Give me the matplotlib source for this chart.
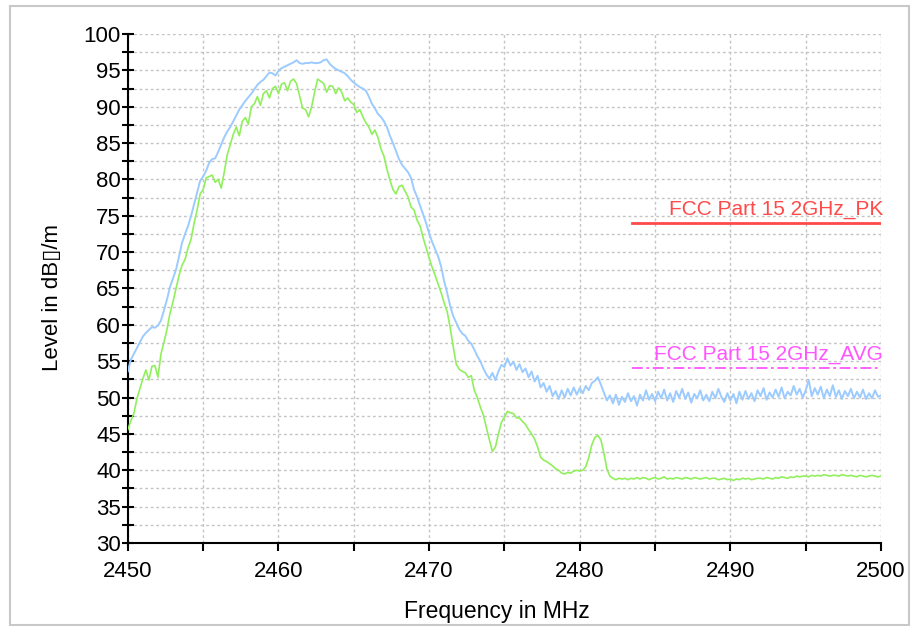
import matplotlib.pyplot as plt
import numpy as np
from matplotlib.patches import Rectangle
from matplotlib.ticker import MultipleLocator

plt.rcParams["font.family"] = ["Liberation Sans", "DejaVu Sans"]

# sweep: 2450 .. 2500 MHz, one point every 0.2 MHz
SWEEP_START, SWEEP_STOP, SWEEP_STEP = 2450.0, 2500.0, 0.2
freq_mhz = np.round(np.arange(SWEEP_START, SWEEP_STOP + SWEEP_STEP / 2, SWEEP_STEP), 1)

# peak trace (light blue), 5 points per MHz
peak_level = [
    53.6, 55.2, 56.0, 56.8, 57.6,  # 2450
    58.4, 58.9, 59.3, 59.7, 59.6,
    59.9, 60.6, 62.0, 63.5, 65.2,
    66.4, 67.6, 69.4, 71.3, 72.5,
    73.6, 75.0, 76.6, 78.2, 79.8,
    80.4, 81.2, 82.3, 82.8, 82.9,  # 2455
    83.8, 84.8, 85.8, 86.6, 87.2,
    88.0, 88.8, 89.6, 90.2, 90.8,
    91.3, 91.8, 92.4, 93.0, 93.4,
    93.7, 94.2, 94.7, 94.6, 94.3,
    94.9, 95.3, 95.5, 95.7, 95.9,  # 2460
    96.1, 96.4, 96.0, 95.9, 96.0,
    96.0, 96.1, 96.0, 96.0, 96.1,
    96.4, 96.5, 95.9, 95.5, 95.2,
    95.0, 94.8, 94.6, 94.2, 93.7,
    93.3, 93.0, 92.7, 92.5, 92.2,  # 2465
    91.4, 90.4, 89.8, 89.0, 88.6,
    88.0, 87.2, 86.0, 85.0, 83.9,
    82.8, 82.0, 81.5, 81.0, 80.2,
    78.6, 77.6, 76.4, 75.2, 74.0,
    72.6, 71.4, 70.4, 69.4, 68.0,  # 2470
    66.0, 64.4, 62.6, 61.2, 60.3,
    59.4, 58.8, 58.5, 57.8, 57.4,
    56.6, 55.7, 55.0, 54.0, 53.2,
    52.6, 53.4, 52.4, 53.6, 54.5,
    54.2, 55.4, 54.4, 54.9, 53.8,  # 2475
    54.6, 53.5, 54.0, 52.8, 53.6,
    52.2, 53.0, 51.4, 52.0, 50.8,
    51.6, 50.2, 50.9, 49.8, 51.0,
    50.0, 51.2, 50.3, 51.4, 50.4,
    51.3, 50.6, 51.6, 51.0, 52.0,  # 2480
    52.3, 52.8, 51.8, 50.7, 49.6,
    50.3, 49.2, 50.4, 49.0, 50.1,
    49.4, 50.6, 49.5, 50.2, 48.9,
    50.4, 49.6, 51.0, 49.7, 50.5,
    49.5, 50.8, 49.9, 51.1, 49.6,  # 2485
    50.6, 49.4, 50.9, 50.0, 51.2,
    49.8, 50.7, 49.3, 50.5, 49.9,
    51.0, 49.6, 50.4, 49.5, 50.8,
    49.9, 51.2, 50.1, 49.4, 50.6,
    49.6, 50.5, 49.2, 50.8, 49.7,  # 2490
    50.9, 49.8, 50.6, 49.5, 51.0,
    50.2, 51.3, 49.7, 50.7, 50.0,
    51.1, 50.1, 51.4, 49.9, 50.8,
    50.3, 51.6, 50.4, 51.2, 50.0,
    51.0, 52.4, 50.2, 51.3, 50.4,  # 2495
    51.5, 49.9, 51.1, 50.2, 51.7,
    50.1, 51.0, 49.8, 50.9, 50.2,
    51.2, 49.9, 50.8, 50.0, 51.1,
    49.8, 50.6, 49.9, 51.0, 50.1,
    50.3,  # 2500
]

# average trace (light green)
avg_level = [
    45.6, 46.8, 47.8, 49.8, 51.2,  # 2450
    52.6, 53.8, 52.4, 54.3, 54.4,
    52.8, 56.0, 57.6, 59.4, 61.6,
    63.2, 65.0, 66.8, 68.2, 69.0,
    70.6, 71.8, 74.0, 75.8, 78.0,
    78.6, 80.2, 80.4, 80.6, 79.6,  # 2455
    80.0, 78.8, 81.0, 83.4, 84.8,
    86.2, 87.2, 86.0, 88.0, 88.5,
    87.6, 90.0, 90.4, 91.4, 90.2,
    91.8, 92.2, 91.2, 92.5, 92.8,
    91.8, 93.1, 93.3, 92.2, 93.5,  # 2460
    93.8, 93.2, 91.5, 89.8, 89.6,
    88.6, 90.0, 92.0, 93.8, 93.5,
    93.2, 92.0, 92.9, 92.8, 91.8,
    92.6, 92.0, 90.8, 91.2, 90.6,
    90.3, 89.2, 89.6, 88.6, 87.8,  # 2465
    87.2, 86.2, 86.8, 85.8, 84.2,
    83.2, 81.4, 79.9, 78.6, 78.0,
    79.0, 79.2, 78.4, 77.6, 76.2,
    75.8, 74.4, 73.6, 72.0, 70.6,
    69.2, 67.9, 66.8, 65.6, 64.4,  # 2470
    63.0, 61.8, 59.6, 57.0, 54.6,
    53.9, 53.6, 53.4, 52.8, 53.0,
    51.0, 50.0, 48.7, 47.6, 45.9,
    44.2, 42.6, 43.2, 45.0, 46.6,
    47.3, 48.1, 47.9, 47.8, 47.2,  # 2475
    47.2, 46.7, 46.3, 45.6, 45.0,
    44.3, 43.2, 41.8, 41.4, 41.2,
    40.9, 40.6, 40.2, 40.0, 39.6,
    39.5, 39.7, 39.6, 39.9, 40.0,
    39.9, 40.0, 40.5, 41.8, 43.5,  # 2480
    44.5, 44.8, 44.2, 42.4, 40.2,
    39.2, 38.9, 38.7, 38.9, 38.8,
    38.9, 38.7, 38.9, 38.8, 39.0,
    38.8, 39.0, 38.9, 38.7, 38.9,
    39.0, 38.8, 38.9, 39.1, 38.8,  # 2485
    38.9, 38.8, 39.0, 38.9, 38.8,
    39.0, 38.9, 38.8, 39.0, 38.9,
    38.8, 38.9, 39.0, 38.8, 38.9,
    38.9, 38.7, 38.8, 38.9, 38.7,
    38.8, 38.6, 38.8, 38.7, 38.9,  # 2490
    38.8, 38.9, 38.7, 38.8, 38.9,
    38.9, 38.8, 39.0, 38.9, 38.8,
    39.0, 38.9, 39.1, 39.0, 38.9,
    39.1, 39.0, 39.2, 39.1, 39.2,
    39.2, 39.1, 39.3, 39.2, 39.3,  # 2495
    39.2, 39.4, 39.3, 39.2, 39.3,
    39.3, 39.2, 39.4, 39.3, 39.2,
    39.3, 39.2, 39.1, 39.3, 39.2,
    39.1, 39.2, 39.3, 39.2, 39.1,
    39.2,  # 2500
]

# limit lines
limit_names = ["FCC Part 15 2GHz_PK", "FCC Part 15 2GHz_AVG"]
limit_levels = [74.0, 54.0]
limit_freq = [2483.5, 2500.0]


def build_plot() -> None:
    fig = plt.figure(figsize=(9.13, 6.26), dpi=100)
    fig.patch.set_facecolor("white")
    fig.patches.append(
        Rectangle((0.011, 0.002), 0.985, 0.988, transform=fig.transFigure,
                  fill=False, edgecolor="#c8c8c8", linewidth=1.5)
    )
    ax = fig.add_axes([0.140, 0.1326, 0.825, 0.8131])

    ax.plot(freq_mhz, peak_level, color="#9ccbff", linewidth=1.4, zorder=3)
    ax.plot(freq_mhz, avg_level, color="#90f05c", linewidth=1.2, zorder=4)

    styles = [
        {"color": "#ff4a4a", "linewidth": 2.0, "linestyle": "-"},
        {"color": "#ff55ff", "linewidth": 1.3, "linestyle": (0, (6, 2, 1.5, 2))},
    ]
    for name, level, style in zip(limit_names, limit_levels, styles):
        ax.plot(limit_freq, [level, level], zorder=5, **style)
        ax.annotate(name, xy=(limit_freq[1], level), xytext=(1.5, 3), textcoords="offset points",
                    ha="right", va="bottom", fontsize=15, color=style["color"], zorder=6)

    ax.set_xlim(2450, 2500)
    ax.set_ylim(30, 100)
    ax.xaxis.set_major_locator(MultipleLocator(10))
    ax.xaxis.set_minor_locator(MultipleLocator(5))
    ax.yaxis.set_major_locator(MultipleLocator(5))
    ax.yaxis.set_minor_locator(MultipleLocator(2.5))

    ax.grid(which="both", color="#c4c4c4", linestyle=(0, (2, 2)), linewidth=1.0)
    ax.set_axisbelow(True)

    for side in ["top", "right"]:
        ax.spines[side].set_visible(False)
    for side in ["left", "bottom"]:
        ax.spines[side].set_linewidth(1.5)

    ax.tick_params(axis="y", which="both", direction="inout", length=8, width=1.5, pad=1, labelsize=16)
    ax.tick_params(axis="x", which="both", direction="out", length=6, width=1.5, pad=7, labelsize=16)

    ax.set_xlabel("Frequency in MHz", fontsize=16.5)
    ax.set_ylabel("Level in dB\u25af/m", fontsize=16)
    ax.xaxis.set_label_coords(0.49, -0.112)
    ax.yaxis.set_label_coords(-0.086, 0.483)

    fig.savefig("out.png", dpi=100)
    plt.close(fig)


if __name__ == "__main__":
    build_plot()
